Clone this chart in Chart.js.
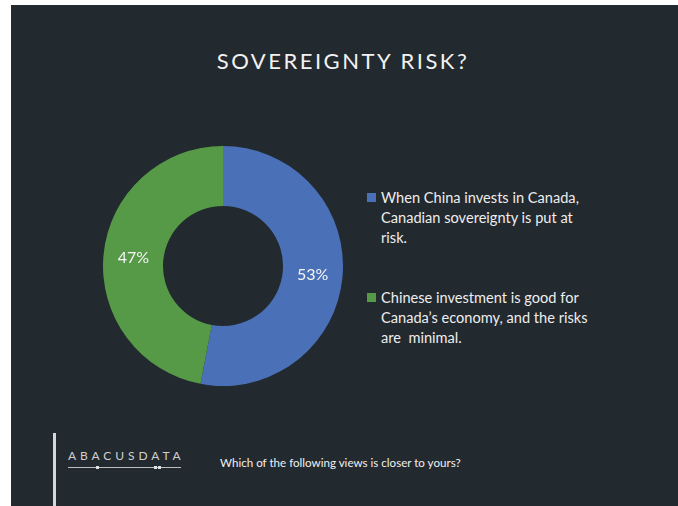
<!DOCTYPE html>
<html>
<head>
<meta charset="utf-8">
<script src="https://cdn.jsdelivr.net/npm/chart.js@4"></script>
<style>
  html, body { margin: 0; padding: 0; background: #fff; }
  body { width: 678px; height: 506px; position: relative; overflow: hidden; font-family: Lato, 'Noto Sans', sans-serif; }
  .panel { position: absolute; left: 11px; top: 5px; width: 667px; height: 501px; background: #22292f; }
  .title { position: absolute; left: 0; top: 47px; width: 686px; text-align: center; color: #f2f2f2;
           font-size: 22px; letter-spacing: 2.5px; font-weight: 400; }
  .chart-box { position: absolute; left: 103px; top: 146px; width: 240px; height: 240px; }
  #legend { position: absolute; left: 367px; top: 188px; width: 270px; color: #eeeeee; font-size: 14.6px; line-height: 20px; }
  #legend .item { position: relative; padding-left: 14px; margin-bottom: 40px; }
  #legend .swatch { position: absolute; left: 0; top: 5px; width: 9px; height: 9px; }
  .vline { position: absolute; left: 53px; top: 433px; width: 3px; height: 80px; background: #d6d6d6; }
  .logo { position: absolute; left: 68px; top: 448px; color: #d0d0d0; font-size: 12px; letter-spacing: 3.9px; }
  .logo-rule { position: absolute; left: 68px; top: 467px; width: 113px; height: 1px; background: #bdbdbd; }
  .dot { position: absolute; top: 466px; width: 3px; height: 3px; background: #e0e0e0; }
  .question { position: absolute; left: 220px; top: 456px; color: #f0f0f0; font-size: 11.6px; }
</style>
</head>
<body>
<div class="panel"></div>
<div class="title">SOVEREIGNTY RISK?</div>
<div class="chart-box"><canvas id="donut"></canvas></div>
<div id="legend"></div>
<div class="vline"></div>
<div class="logo">ABACUSDATA</div>
<div class="logo-rule"></div>
<div class="dot" style="left:96px"></div>
<div class="dot" style="left:154px"></div>
<div class="dot" style="left:158px"></div>
<div class="question">Which of the following views is closer to yours?</div>

<script>
// ─── DATA ─────────────────────────────────────────────────────────────────────
const labels = [
    'When China invests in Canada, Canadian sovereignty is put at risk.',
    'Chinese investment is good for Canada\u2019s economy, and the risks are  minimal.'
];
const legendLines = [
    ['When China invests in Canada,', 'Canadian sovereignty is put at', 'risk.'],
    ['Chinese investment is good for', 'Canada\u2019s economy, and the risks', 'are \u00a0minimal.']
];
const shares = [53, 47];
const colors = ['#4a71b8', '#569a48'];

// ─── LEGEND ───────────────────────────────────────────────────────────────────
const legendEl = document.getElementById('legend');
labels.forEach((lbl, i) => {
    const item = document.createElement('div');
    item.className = 'item';
    item.innerHTML = '<span class="swatch" style="background:' + colors[i] + '"></span>' +
        legendLines[i].join('<br>');
    legendEl.appendChild(item);
});

// ─── PERCENT LABELS ON SLICES ─────────────────────────────────────────────────
const sliceLabels = {
    id: 'sliceLabels',
    afterDatasetsDraw(chart) {
        const ctx = chart.ctx;
        const meta = chart.getDatasetMeta(0);
        ctx.save();
        ctx.fillStyle = '#f4f4f4';
        ctx.font = "16px Lato, 'Noto Sans', sans-serif";
        ctx.textAlign = 'center';
        ctx.textBaseline = 'middle';
        meta.data.forEach((arc, i) => {
            const p = arc.tooltipPosition();
            ctx.fillText(shares[i] + '%', p.x, p.y);
        });
        ctx.restore();
    }
};

new Chart(document.getElementById('donut'), {
    type: 'doughnut',
    data: {
        labels: labels,
        datasets: [{ data: shares, backgroundColor: colors, borderWidth: 0 }]
    },
    options: {
        responsive: true,
        maintainAspectRatio: false,
        animation: false,
        cutout: '50%',
        layout: { padding: 0 },
        plugins: { legend: { display: false }, tooltip: { enabled: false } }
    },
    plugins: [sliceLabels]
});
</script>
</body>
</html>
